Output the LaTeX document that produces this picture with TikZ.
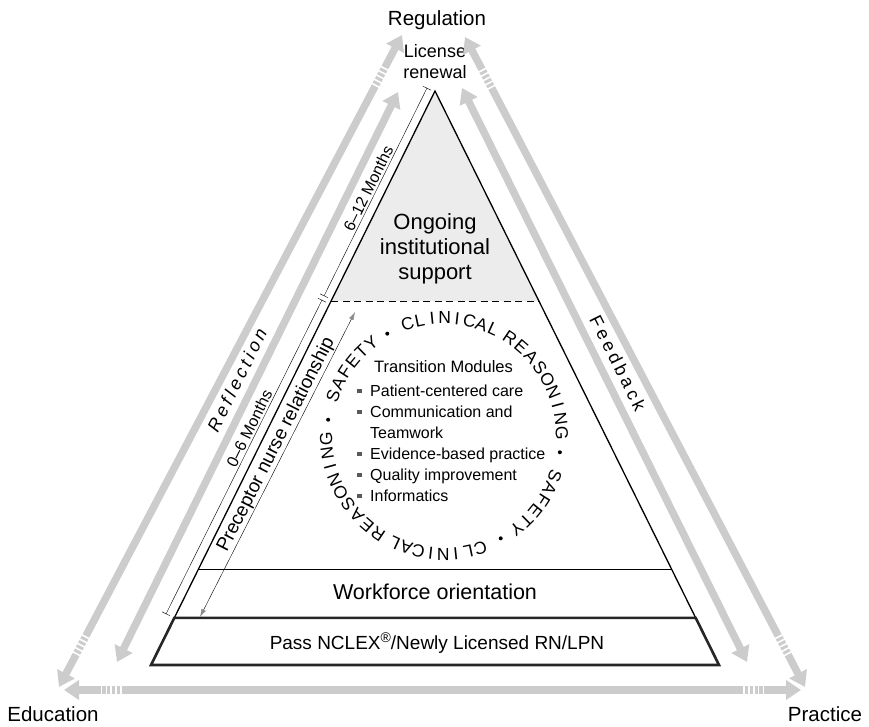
\documentclass[tikz,border=0pt]{standalone}
\usepackage{fontspec}
\setmainfont{Liberation Sans}
\newfontfamily\spaced[LetterSpace=20]{Liberation Sans}
\usetikzlibrary{arrows.meta, calc, positioning}
\definecolor{band}{RGB}{204,204,204}
\definecolor{topfill}{RGB}{236,236,236}
\definecolor{tipgray}{RGB}{140,140,140}
\newcommand{\sqb}{\makebox[13pt][l]{\color{black!65}\rule[3.5pt]{4.5pt}{4.5pt}}}

\begin{document}
\begin{tikzpicture}[x=1pt, y=1pt,
      edge/.style={draw=black, line width=1.3pt, line join=miter},
      basebox/.style={draw=black!85, line width=2.6pt, line join=miter},
      band/.style={draw=band, line width=7.5pt, {Triangle[length=15pt,width=19pt]}-{Triangle[length=15pt,width=19pt]}},
      gap/.style={draw=white, line width=10pt, dash pattern=on 1.6pt off 3.2pt},
      span/.style={thin, {Bar[width=9pt]}-{Bar[width=9pt]}},
      prec/.style={thin, {Latex[length=8pt,width=5pt,color=tipgray]}-{Latex[length=8pt,width=5pt,color=tipgray]}},
      lbl/.style={font=\fontsize{20}{24.5}\selectfont, align=center, inner sep=0pt},
      small/.style={font=\fontsize{16}{19}\selectfont, inner sep=2pt},
      side/.style={font=\spaced\fontsize{18}{20}\selectfont, inner sep=0pt},
      ltr/.style={font=\fontsize{17.5}{20}\selectfont, inner sep=0pt}
   ]
      \useasboundingbox (0,0) rectangle (869,726);

      % Pyramid corners and level lines
      \coordinate (apex) at (435,635);
      \coordinate (bl) at (151,61);
      \coordinate (br) at (719,61);
      \coordinate (dl) at ($(apex)!0.366!(bl)$);
      \coordinate (dr) at ($(apex)!0.366!(br)$);
      \coordinate (wl) at ($(apex)!0.833!(bl)$);
      \coordinate (wr) at ($(apex)!0.833!(br)$);
      \coordinate (nl) at ($(apex)!0.918!(bl)$);
      \coordinate (nr) at ($(apex)!0.918!(br)$);

      % Corner labels
      \node (reg)  [lbl, font=\fontsize{20.5}{24}\selectfont] at (437,706) {Regulation};
      \node (edu)  [lbl, font=\fontsize{20.5}{24}\selectfont] at (53,12)   {Education};
      \node (prac) [lbl, font=\fontsize{20.5}{24}\selectfont] at (825,12)  {Practice};
      \node (lic)  [lbl, font=\fontsize{18}{21}\selectfont]   at (435,664) {License\\renewal};

      % Outer and inner gray arrows
      \coordinate (ol1) at (59,39);   \coordinate (ol2) at (402,691);
      \coordinate (or1) at (465,689); \coordinate (or2) at (805,39);
      \coordinate (ob1) at (64,36);   \coordinate (ob2) at (801,36);
      \coordinate (il1) at (117,64);  \coordinate (il2) at (398,634);
      \coordinate (ir1) at (462,638); \coordinate (ir2) at (747,64);
      \draw[band] (ol1) -- (ol2);
      \draw[band] (or1) -- (or2);
      \draw[band] (ob1) -- (ob2);
      \draw[band] (il1) -- (il2);
      \draw[band] (ir1) -- (ir2);
      \draw[gap] ($(ol1)!0.05!(ol2)$) -- ($(ol1)!0.08!(ol2)$);
      \draw[gap] ($(ol2)!0.05!(ol1)$) -- ($(ol2)!0.08!(ol1)$);
      \draw[gap] ($(or1)!0.05!(or2)$) -- ($(or1)!0.08!(or2)$);
      \draw[gap] ($(or2)!0.05!(or1)$) -- ($(or2)!0.08!(or1)$);
      \draw[gap] ($(ob1)!0.05!(ob2)$) -- ($(ob1)!0.08!(ob2)$);
      \draw[gap] ($(ob2)!0.05!(ob1)$) -- ($(ob2)!0.08!(ob1)$);

      \node (refl) [side, font=\spaced\itshape\fontsize{18}{20}\selectfont, rotate=63.7] at (237,346) {Reflection};
      \node (fdbk) [side, rotate=-63.5] at (618,363) {Feedback};

      % Pyramid
      \fill[topfill] (apex) -- (dl) -- (dr) -- cycle;
      \draw[edge] (apex) -- (bl) -- (br) -- cycle;
      \draw[thick, dash pattern=on 7pt off 4.5pt] (dl) -- (dr);
      \draw[thick] (wl) -- (wr);
      \draw[basebox] (nl) -- (bl) -- (br) -- (nr) -- cycle;

      \node (ongoing) [lbl, font=\fontsize{22}{25}\selectfont] at (435,477) {Ongoing\\institutional\\support};
      \node (wforce)  [lbl, font=\fontsize{21.5}{24}\selectfont, anchor=base] at (435,127) {Workforce orientation};
      \node (nclex)   [lbl, font=\fontsize{19}{22}\selectfont, anchor=base] at (437,77)
         {Pass NCLEX\raisebox{7pt}{\fontsize{14}{14}\selectfont ®}/Newly Licensed RN/LPN};

      % Time spans along the left edge
      \coordinate (bt) at (427,638);
      \coordinate (b1) at (324,430);
      \coordinate (b2) at (322,426);
      \coordinate (bb) at (166,112);
      \draw[span] (b1) -- node[small, sloped, above] {6--12 Months} (bt);
      \draw[span] (bb) -- node[small, sloped, above, pos=0.58] {0--6 Months} (b2);

      \coordinate (pb) at (200,109);
      \coordinate (pt) at (355,414);
      \draw[prec] (pb) -- node[small, font=\fontsize{19}{21}\selectfont, inner sep=1pt, sloped, above, pos=0.55] {Preceptor nurse relationship} (pt);

      % Transition modules
      \node (tmod) [lbl, font=\fontsize{16.5}{20}\selectfont] at (443.5,359) {Transition Modules};
      \node (mlist) [lbl, font=\fontsize{16}{21}\selectfont, align=left, anchor=north west] at (357,341)
         {\sqb Patient-centered care\\
          \sqb Communication and\\
          \hspace{13pt}Teamwork\\
          \sqb Evidence-based practice\\
          \sqb Quality improvement\\
          \sqb Informatics};

      % Ring of words round the modules
      \coordinate (hub) at (444,290);
      \foreach \rot in {0,180} {
         \foreach \ch [count=\i, evaluate=\i as \a using 160-\rot-(\i-1)*6.4] in {S,A,F,E,T,Y}
            \node[ltr, rotate=\a-90] at ([shift={(\a:118)}]hub) {\ch};
         \foreach \ch [count=\i, evaluate=\i as \a using 108-\rot-(\i-1)*6.1] in {C,L,I,N,I,C,A,L}
            \node[ltr, rotate=\a-90] at ([shift={(\a:118)}]hub) {\ch};
         \foreach \ch [count=\i, evaluate=\i as \a using 56-\rot-(\i-1)*6.8] in {R,E,A,S,O,N,I,N,G}
            \node[ltr, rotate=\a-90] at ([shift={(\a:118)}]hub) {\ch};
         \fill ([shift={({172-\rot}:117)}]hub) circle (2pt);
         \fill ([shift={({119-\rot}:117)}]hub) circle (2pt);
      }
   \end{tikzpicture}
\end{document}
